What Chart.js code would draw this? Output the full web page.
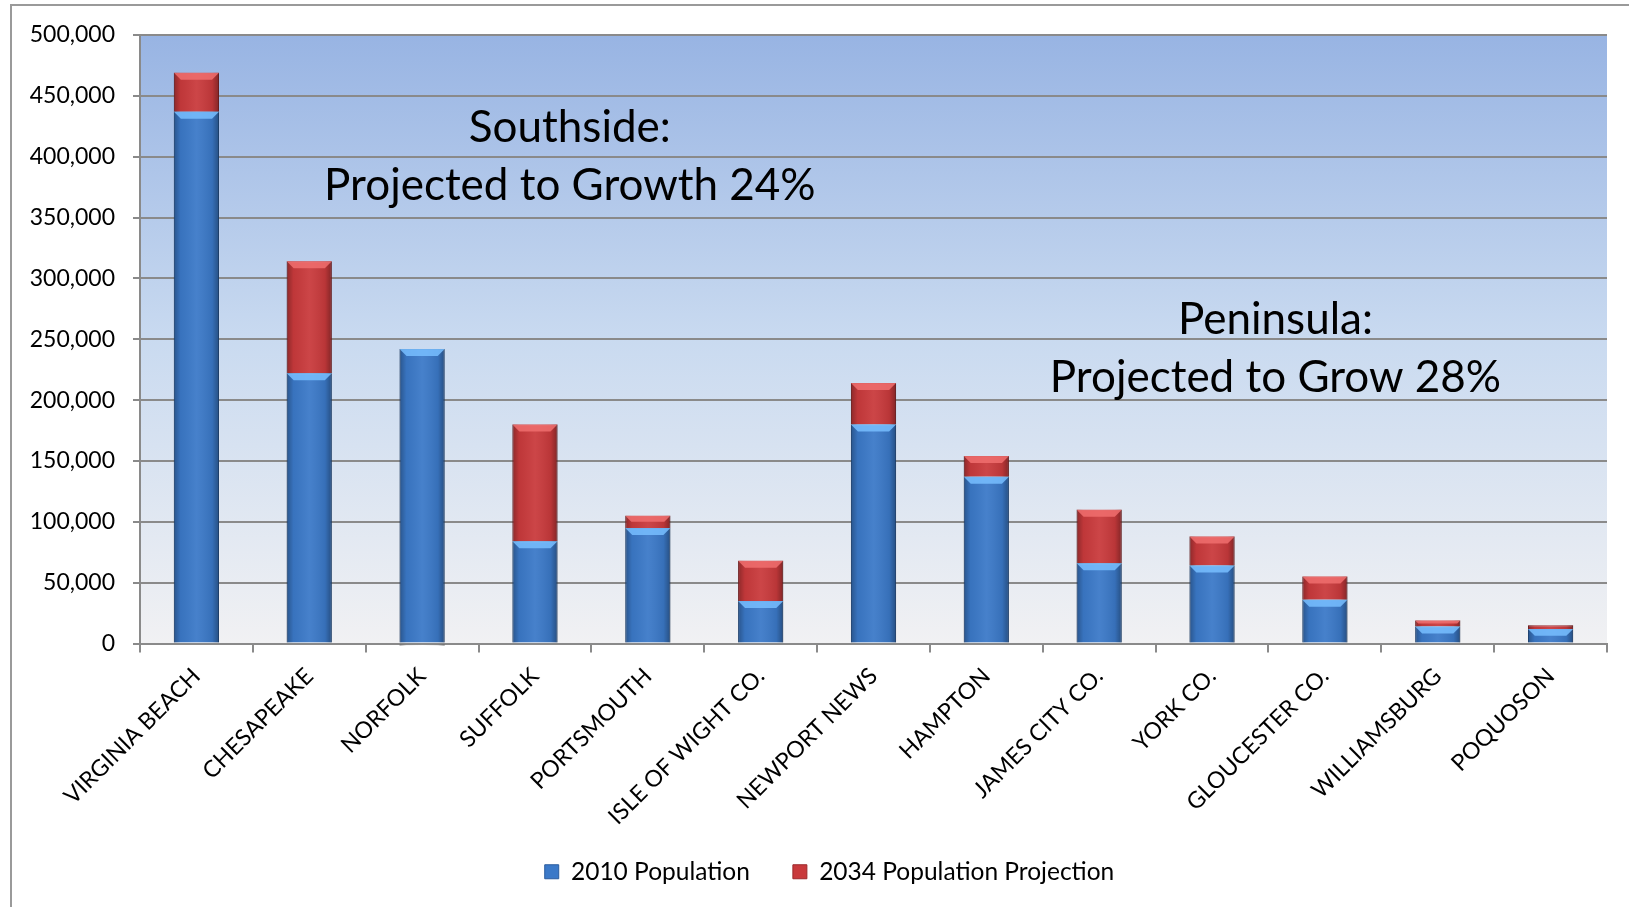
<!DOCTYPE html>
<html>
<head>
<meta charset="utf-8">
<script src="https://cdn.jsdelivr.net/npm/chart.js@4.4.1/dist/chart.umd.min.js"></script>
<style>
  html, body { margin: 0; padding: 0; background: #fff; overflow: hidden; }
  #frame {
    position: absolute; left: 10px; top: 4px; width: 1700px; height: 1000px;
    border: 2px solid #9a9a9a; box-sizing: border-box;
  }
  #chart { position: absolute; left: 0; top: 0; }
</style>
</head>
<body>
<div id="frame"></div>
<canvas id="chart" width="1629" height="907"></canvas>
<script>
const categories = ['VIRGINIA BEACH', 'CHESAPEAKE', 'NORFOLK', 'SUFFOLK', 'PORTSMOUTH', 'ISLE OF WIGHT CO.',
    'NEWPORT NEWS', 'HAMPTON', 'JAMES CITY CO.', 'YORK CO.', 'GLOUCESTER CO.', 'WILLIAMSBURG', 'POQUOSON'];
const pop2010 = [437000, 222000, 242000, 84000, 95000, 35000, 180000, 137000, 66000, 64000, 36000, 14000, 12000];
const growth2034 = [32000, 92000, -2000, 96000, 10000, 33000, 34000, 17000, 44000, 24000, 19000, 5000, 3000];
const yTicks = [0, 50000, 100000, 150000, 200000, 250000, 300000, 350000, 400000, 450000, 500000];

const notes = [
    { text: 'Southside:', x: 0.293, y: 424000 },
    { text: 'Projected to Growth 24%', x: 0.293, y: 376000 },
    { text: 'Peninsula:', x: 0.774, y: 266000 },
    { text: 'Projected to Grow 28%', x: 0.774, y: 218000 }
];

const FONT = 'Lato, "Open Sans", sans-serif';
Chart.defaults.color = '#000';
Chart.defaults.font.family = FONT;

// plot area gradient background
const plotBackground = {
    id: 'plotBackground',
    beforeDraw(chart) {
        const { ctx, chartArea: a } = chart;
        const g = ctx.createLinearGradient(0, a.top, 0, a.bottom);
        g.addColorStop(0, '#98b4e3');
        g.addColorStop(0.5, '#c9daf0');
        g.addColorStop(1, '#f1f1f3');
        ctx.save();
        ctx.fillStyle = g;
        ctx.fillRect(a.left, a.top, a.right - a.left, a.bottom - a.top);
        ctx.restore();
    }
};

// shading so the bars look a bit raised, like the original
const bevel = {
    id: 'bevel',
    afterDatasetsDraw(chart) {
        const ctx = chart.ctx;
        const tops = ['rgba(120,190,255,0.85)', 'rgba(240,110,110,0.85)'];
        chart.data.datasets.forEach((ds, di) => {
            chart.getDatasetMeta(di).data.forEach(bar => {
                const left = bar.x - bar.width / 2;
                const right = bar.x + bar.width / 2;
                const top = Math.min(bar.y, bar.base);
                const h = Math.abs(bar.base - bar.y);
                if (h < 1) return;
                ctx.save();
                const g = ctx.createLinearGradient(left, 0, right, 0);
                g.addColorStop(0, 'rgba(0,0,0,0.30)');
                g.addColorStop(0.15, 'rgba(0,0,0,0.05)');
                g.addColorStop(0.5, 'rgba(255,255,255,0.06)');
                g.addColorStop(0.85, 'rgba(0,0,0,0.08)');
                g.addColorStop(1, 'rgba(0,0,0,0.35)');
                ctx.fillStyle = g;
                ctx.fillRect(left, top, bar.width, h);
                if (h > 6 && bar.y < bar.base) {
                    const b = Math.min(7, h / 2);
                    ctx.fillStyle = tops[di];
                    ctx.beginPath();
                    ctx.moveTo(left, top);
                    ctx.lineTo(right, top);
                    ctx.lineTo(right - b, top + b);
                    ctx.lineTo(left + b, top + b);
                    ctx.closePath();
                    ctx.fill();
                }
                ctx.restore();
            });
        });
    }
};

const annotations = {
    id: 'annotations',
    afterDraw(chart) {
        const { ctx, chartArea: a } = chart;
        const y = chart.scales.y;
        ctx.save();
        ctx.font = '44px ' + FONT;
        ctx.fillStyle = '#000';
        ctx.textAlign = 'center';
        ctx.textBaseline = 'middle';
        notes.forEach(n => {
            ctx.fillText(n.text, a.left + (a.right - a.left) * n.x, y.getPixelForValue(n.y));
        });
        ctx.restore();
    }
};

// nudge the legend to where the original has it
const legendShift = {
    id: 'legendShift',
    afterLayout(chart) {
        const lg = chart.legend;
        lg.left += 26;
        lg.right += 26;
        lg.top -= 13;
        lg.bottom -= 13;
    }
};

new Chart(document.getElementById('chart'), {
    type: 'bar',
    data: {
        labels: categories,
        datasets: [
            {
                label: '2010 Population',
                data: pop2010,
                backgroundColor: '#3b79c8',
                borderColor: '#2b5d9e',
                borderWidth: 1,
                barPercentage: 0.4,
                categoryPercentage: 1
            },
            {
                label: '2034 Population Projection',
                data: growth2034,
                backgroundColor: '#c93a3c',
                borderColor: '#9c2a2c',
                borderWidth: 1,
                barPercentage: 0.4,
                categoryPercentage: 1
            }
        ]
    },
    options: {
        responsive: false,
        animation: false,
        devicePixelRatio: 1,
        layout: { padding: { top: 35, right: 22, left: 0, bottom: 0 } },
        plugins: {
            legend: {
                position: 'bottom',
                labels: {
                    boxWidth: 14,
                    boxHeight: 14,
                    padding: 43,
                    font: { size: 24.5 },
                    generateLabels(chart) {
                        return chart.data.datasets.map((ds, i) => ({
                            text: ds.label,
                            fillStyle: ds.backgroundColor,
                            strokeStyle: ds.borderColor,
                            lineWidth: 1,
                            datasetIndex: i
                        }));
                    }
                }
            },
            tooltip: { enabled: false }
        },
        scales: {
            x: {
                stacked: true,
                grid: {
                    offset: true,
                    drawOnChartArea: false,
                    drawTicks: true,
                    tickLength: 9,
                    color: '#8a8a8a',
                    lineWidth: 2
                },
                border: { color: '#8a8a8a', width: 2 },
                ticks: {
                    minRotation: 45,
                    maxRotation: 45,
                    autoSkip: false,
                    padding: 10,
                    font: { size: 23 }
                },
                afterFit(scale) { scale.height = 186; }
            },
            y: {
                stacked: true,
                min: 0,
                max: 500000,
                afterBuildTicks(scale) {
                    scale.ticks = yTicks.map(v => ({ value: v }));
                },
                grid: {
                    color: '#8a8a8a',
                    lineWidth: 2,
                    tickLength: 7
                },
                border: { color: '#8a8a8a', width: 2 },
                ticks: {
                    padding: 18,
                    font: { size: 23 },
                    callback: v => v.toLocaleString('en-US')
                },
                afterFit(scale) { scale.width = 140; }
            }
        }
    },
    plugins: [plotBackground, bevel, annotations, legendShift]
});
</script>
</body>
</html>
